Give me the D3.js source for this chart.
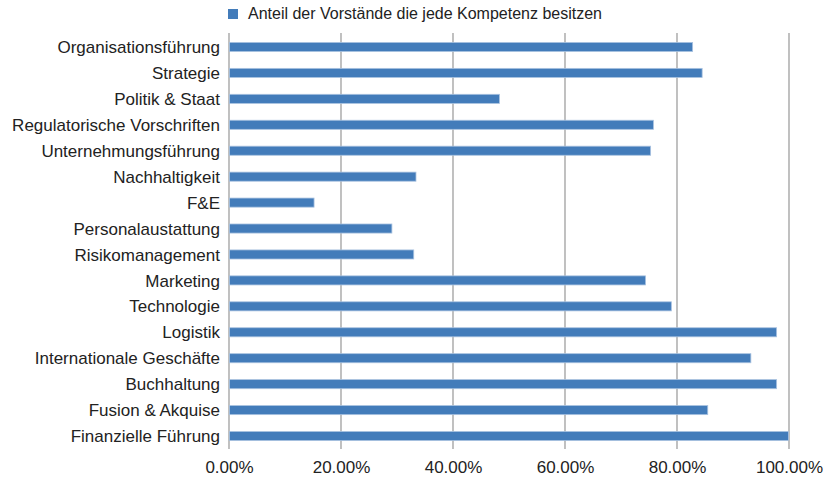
<!DOCTYPE html>
<html>
<head>
<meta charset="utf-8">
<script src="https://cdn.jsdelivr.net/npm/d3@7"></script>
<style>
  body { margin: 0; background: #fff; }
  svg { font-family: "Liberation Sans", Arial, Helvetica, sans-serif; }
</style>
</head>
<body>
<svg id="chart" width="828" height="479"></svg>
<script>
// categories, top to bottom
var categories = [
  "Organisationsführung", "Strategie", "Politik & Staat", "Regulatorische Vorschriften",
  "Unternehmungsführung", "Nachhaltigkeit", "F&E", "Personalaustattung",
  "Risikomanagement", "Marketing", "Technologie", "Logistik",
  "Internationale Geschäfte", "Buchhaltung", "Fusion & Akquise", "Finanzielle Führung"
];
// share of boards (fraction)
var values = [
  0.827, 0.844, 0.482, 0.757,
  0.752, 0.333, 0.151, 0.290,
  0.329, 0.743, 0.789, 0.977,
  0.931, 0.977, 0.854, 0.998
];
var ticks = [0, 0.2, 0.4, 0.6, 0.8, 1.0];
var seriesName = "Anteil der Vorstände die jede Kompetenz besitzen";

var data = categories.map(function (c, i) { return { cat: c, value: values[i] }; });

var svg = d3.select("#chart");

var x = d3.scaleLinear().domain([0, 1]).range([229, 789]);
var y = d3.scaleBand().domain(categories).range([34, 449]).paddingInner(0.65).paddingOuter(0.325);

// gridlines
svg.append("g")
  .selectAll("line")
  .data(ticks)
  .enter()
  .append("line")
  .attr("x1", function (d) { return x(d); })
  .attr("x2", function (d) { return x(d); })
  .attr("y1", 33)
  .attr("y2", 449)
  .attr("stroke", "#a6a6a6")
  .attr("stroke-width", 1.4);

// bars
svg.append("g")
  .selectAll("rect")
  .data(data)
  .enter()
  .append("rect")
  .attr("x", x(0) + 0.5)
  .attr("y", function (d) { return y(d.cat); })
  .attr("width", function (d) { return x(d.value) - x(0); })
  .attr("height", y.bandwidth())
  .attr("fill", "#437cba")
  .attr("stroke", "#a9c2e0")
  .attr("stroke-width", 0.8);

// category labels
svg.append("g")
  .selectAll("text")
  .data(categories)
  .enter()
  .append("text")
  .attr("x", 220)
  .attr("y", function (d) { return y(d) + y.bandwidth() / 2; })
  .attr("dy", "0.36em")
  .attr("text-anchor", "end")
  .style("font-size", "17px")
  .style("fill", "#222")
  .text(function (d) { return d; });

// x axis labels
var xAxis = svg.append("g")
  .attr("transform", "translate(0,457)")
  .call(d3.axisBottom(x).tickValues(ticks).tickFormat(d3.format(".2%")).tickSize(0).tickPadding(4));
xAxis.select(".domain").remove();
xAxis.selectAll("text")
  .style("font-size", "17px")
  .style("font-family", "'Liberation Sans', Arial, sans-serif")
  .style("fill", "#222");

// legend
svg.append("rect").attr("x", 228).attr("y", 9).attr("width", 10).attr("height", 10).attr("fill", "#437cba");
svg.append("text").attr("x", 248).attr("y", 19)
  .text(seriesName)
  .style("font-size", "16px")
  .style("fill", "#222");
</script>
</body>
</html>
